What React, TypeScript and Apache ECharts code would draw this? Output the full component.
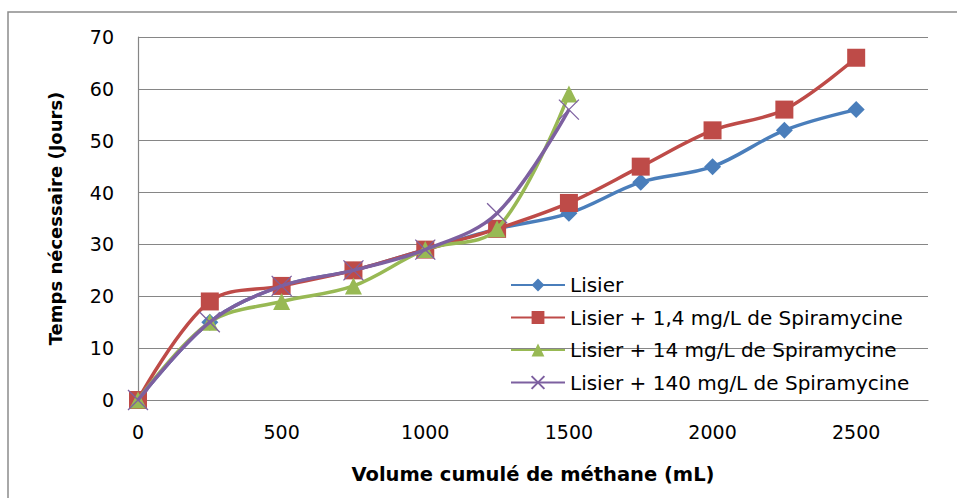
import React, { useEffect, useRef } from "react";
import * as echarts from "echarts";

const volumes = [0, 250, 500, 750, 1000, 1250, 1500, 1750, 2000, 2250, 2500];
const lisier = [0, 15, 22, 25, 29, 33, 36, 42, 45, 52, 56];
const spira14 = [0, 19, 22, 25, 29, 33, 38, 45, 52, 56, 66];
const spira140 = [0, 15, 19, 22, 29, 33, 59];
const spira1400 = [0, 15, 22, 25, 29, 36, 56];
const seriesNames = [
  "Lisier",
  "Lisier + 1,4 mg/L de Spiramycine",
  "Lisier + 14 mg/L de Spiramycine",
  "Lisier + 140 mg/L de Spiramycine",
];
const xTicks = [0, 500, 1000, 1500, 2000, 2500];

const FONT = "DejaVu Sans";

function pairs(vals: number[]) {
  return vals.map((v, i) => [volumes[i], v]);
}

export default function App() {
  const ref = useRef<HTMLDivElement>(null);
  useEffect(() => {
    if (!ref.current) return;
    const chart = echarts.init(ref.current, null, { renderer: "svg" });
    const colors = ["#4A7EBB", "#BE4B48", "#98B954", "#7D60A0"];
    const symbols = [
      "diamond",
      "rect",
      "triangle",
      "path://M0,0L10,10M10,0L0,10",
    ];
    const sizes = [17, 18, 17, 20];
    const datas = [lisier, spira14, spira140, spira1400];
    chart.setOption({
      animation: false,
      backgroundColor: "#ffffff",
      graphic: [
        {
          type: "rect",
          shape: { x: 8, y: 12, width: 1000, height: 1000 },
          style: { fill: "none", stroke: "#8c8c8c", lineWidth: 1.5 },
          silent: true,
        },
      ],
      grid: { left: 138, right: 29, top: 37, bottom: 98 },
      legend: {
        orient: "vertical",
        left: 505,
        top: 270,
        itemWidth: 54,
        itemHeight: 16,
        itemGap: 12.5,
        textStyle: {
          fontFamily: FONT,
          fontSize: 20,
          lineHeight: 20,
          color: "#000",
        },
        data: seriesNames,
      },
      xAxis: {
        type: "value",
        min: 0,
        max: 2750,
        interval: 500,
        name: "Volume cumulé de méthane (mL)",
        nameLocation: "middle",
        nameGap: 64,
        nameTextStyle: {
          fontFamily: FONT,
          fontSize: 19.5,
          fontWeight: "bold",
          color: "#000",
        },
        axisLine: { show: true, lineStyle: { color: "#868686", width: 1.2 } },
        axisTick: { show: false },
        splitLine: { show: false },
        axisLabel: {
          fontFamily: FONT,
          fontSize: 19,
          color: "#000",
          margin: 22,
          showMaxLabel: false,
          formatter: (v: number) => (xTicks.includes(v) ? String(v) : ""),
        },
      },
      yAxis: {
        type: "value",
        min: 0,
        max: 70,
        interval: 10,
        name: "Temps nécessaire (Jours)",
        nameLocation: "middle",
        nameGap: 74,
        nameTextStyle: {
          fontFamily: FONT,
          fontSize: 18,
          fontWeight: "bold",
          color: "#000",
        },
        axisLine: { show: true, lineStyle: { color: "#868686", width: 1.2 } },
        axisTick: { show: false },
        splitLine: { show: true, lineStyle: { color: "#868686", width: 1.2 } },
        axisLabel: { fontFamily: FONT, fontSize: 19, color: "#000", margin: 24 },
      },
      series: datas.map((d, i) => ({
        name: seriesNames[i],
        type: "line",
        smooth: 0.35,
        data: pairs(d),
        symbol: symbols[i],
        symbolSize: sizes[i],
        showAllSymbol: true,
        color: colors[i],
        lineStyle: { color: colors[i], width: 3.5 },
        itemStyle:
          i === 3
            ? { color: colors[i], borderColor: colors[i], borderWidth: 1.3 }
            : { color: colors[i] },
        z: 2 + i,
      })),
    });
    return () => chart.dispose();
  }, []);
  return (
    <div
      ref={ref}
      style={{ position: "fixed", left: 0, top: 0, width: 957, height: 498 }}
    />
  );
}
